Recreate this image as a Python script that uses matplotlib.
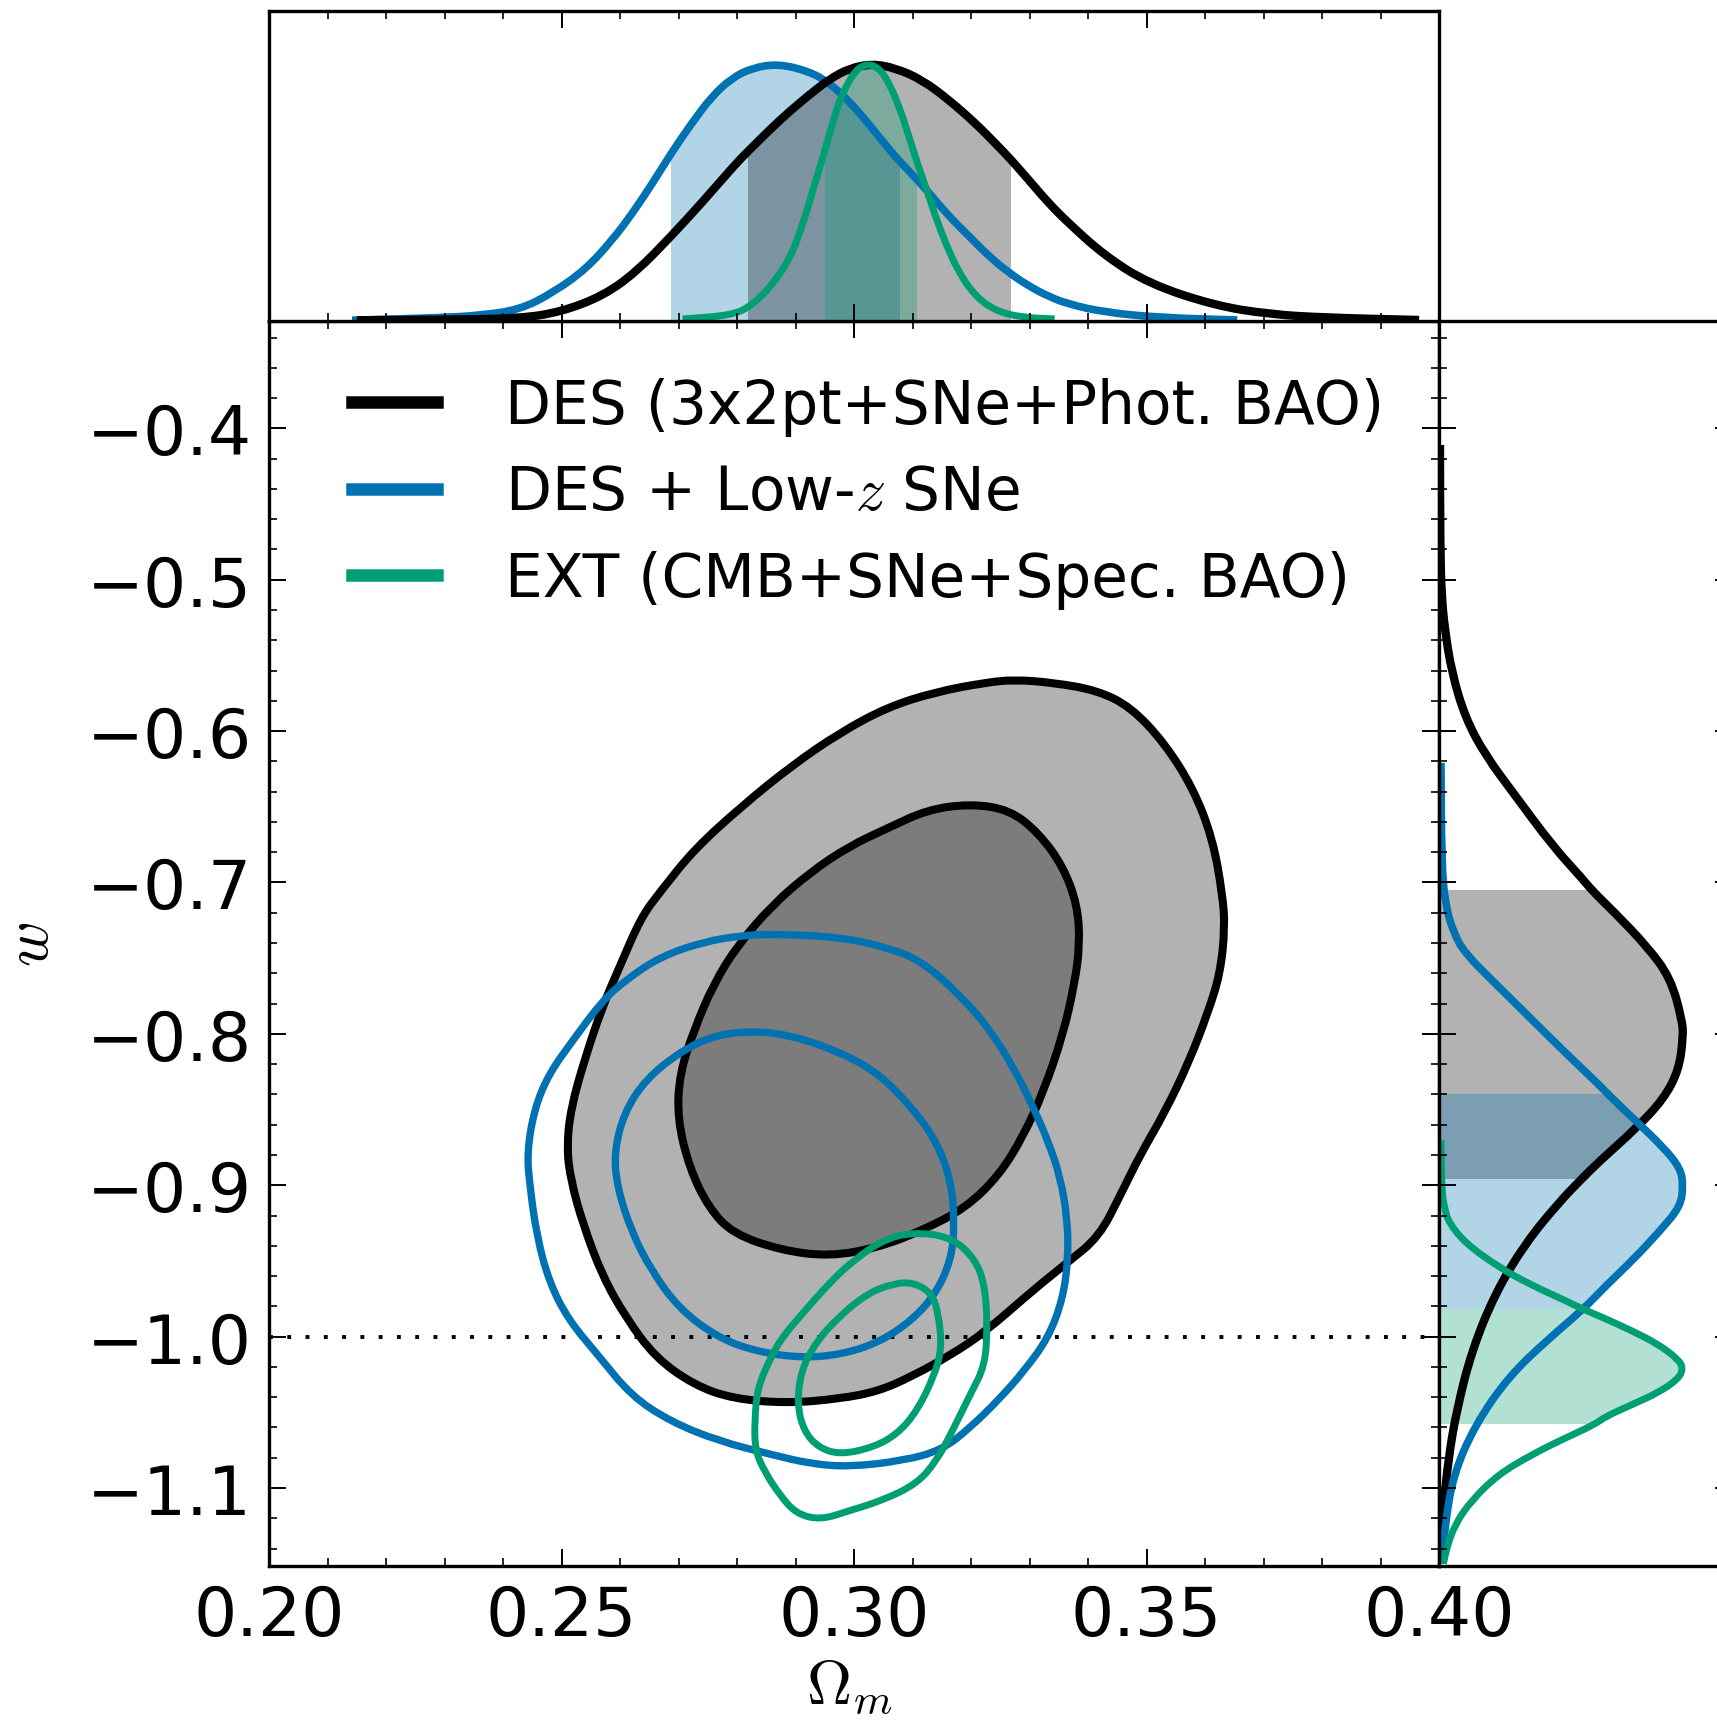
import numpy as np
import matplotlib
matplotlib.use('Agg')
import matplotlib.pyplot as plt
from matplotlib.path import Path
from matplotlib.patches import PathPatch, Rectangle
from matplotlib.lines import Line2D
from matplotlib.transforms import Affine2D
from matplotlib.ticker import MultipleLocator

# colours (DES black, DES+lowz blue, EXT green)
c_des = 'black'
c_low = '#0072B2'
c_ext = '#009E73'

labels = ['DES (3x2pt+SNe+Phot. BAO)', r'DES + Low-$z$ SNe', 'EXT (CMB+SNe+Spec. BAO)']

# ---- 2D contours (Omega_m, w) ----
des_out_om = [0.3274, 0.3340, 0.3415, 0.3473, 0.3531, 0.3580, 0.3613, 0.3630, 0.3634, 0.3626,
              0.3605, 0.3572, 0.3531, 0.3489, 0.3456, 0.3419, 0.3365, 0.3307, 0.3224, 0.3166,
              0.3100, 0.3042, 0.2976, 0.2885, 0.2793, 0.2727, 0.2661, 0.2611, 0.2570, 0.2537,
              0.2516, 0.2509, 0.2516, 0.2541, 0.2570, 0.2599, 0.2636, 0.2669, 0.2727, 0.2810,
              0.2893, 0.2976, 0.3058, 0.3141, 0.3224]
des_out_w = [-0.566, -0.568, -0.573, -0.584, -0.608, -0.638, -0.671, -0.708, -0.730, -0.760,
             -0.786, -0.819, -0.852, -0.880, -0.906, -0.934, -0.951, -0.969, -0.997, -1.012,
             -1.026, -1.036, -1.041, -1.044, -1.041, -1.032, -1.014, -0.988, -0.960, -0.926,
             -0.897, -0.875, -0.849, -0.815, -0.782, -0.756, -0.723, -0.706, -0.678, -0.649,
             -0.623, -0.601, -0.584, -0.574, -0.568]

des_in_om = [0.3199, 0.3266, 0.3315, 0.3357, 0.3382, 0.3386, 0.3377, 0.3357, 0.3324, 0.3290,
             0.3249, 0.3191, 0.3116, 0.3042, 0.2959, 0.2876, 0.2793, 0.2752, 0.2719, 0.2698,
             0.2702, 0.2727, 0.2760, 0.2802, 0.2860, 0.2926, 0.2992, 0.3058, 0.3125]
des_in_w = [-0.648, -0.652, -0.667, -0.689, -0.715, -0.741, -0.767, -0.801, -0.838, -0.867,
            -0.893, -0.915, -0.930, -0.941, -0.947, -0.943, -0.932, -0.915, -0.889, -0.856,
            -0.826, -0.797, -0.767, -0.741, -0.715, -0.693, -0.676, -0.664, -0.652]

low_out_om = [0.2860, 0.2976, 0.3058, 0.3116, 0.3183, 0.3232, 0.3274, 0.3307, 0.3332, 0.3353,
              0.3365, 0.3366, 0.3357, 0.3332, 0.3290, 0.3249, 0.3199, 0.3150, 0.3083, 0.2992,
              0.2926, 0.2860, 0.2769, 0.2686, 0.2619, 0.2562, 0.2512, 0.2479, 0.2458, 0.2446,
              0.2441, 0.2454, 0.2479, 0.2520, 0.2570, 0.2611, 0.2669, 0.2744, 0.2810]
low_out_w = [-0.734, -0.736, -0.743, -0.752, -0.775, -0.797, -0.823, -0.849, -0.871, -0.895,
             -0.923, -0.949, -0.975, -1.001, -1.023, -1.041, -1.060, -1.075, -1.082, -1.086,
             -1.084, -1.078, -1.069, -1.056, -1.039, -1.012, -0.989, -0.964, -0.934, -0.901,
             -0.878, -0.849, -0.826, -0.804, -0.778, -0.764, -0.749, -0.739, -0.735]

low_in_om = [0.2827, 0.2893, 0.2976, 0.3042, 0.3100, 0.3141, 0.3166, 0.3172, 0.3166, 0.3141,
             0.3100, 0.3042, 0.2976, 0.2909, 0.2835, 0.2769, 0.2702, 0.2653, 0.2619, 0.2595,
             0.2590, 0.2607, 0.2644, 0.2702, 0.2760]
low_in_w = [-0.798, -0.801, -0.812, -0.826, -0.849, -0.871, -0.897, -0.926, -0.949, -0.971,
            -0.989, -1.004, -1.012, -1.014, -1.010, -1.001, -0.982, -0.956, -0.930, -0.901,
            -0.878, -0.852, -0.830, -0.812, -0.801]

ext_out_om = [0.3100, 0.3166, 0.3208, 0.3224, 0.3228, 0.3224, 0.3199, 0.3166, 0.3141, 0.3108,
              0.3050, 0.2992, 0.2943, 0.2901, 0.2872, 0.2847, 0.2831, 0.2830, 0.2835, 0.2856,
              0.2876, 0.2909, 0.2959, 0.3001, 0.3050]
ext_out_w = [-0.931, -0.934, -0.949, -0.967, -0.993, -1.019, -1.038, -1.064, -1.082, -1.097,
             -1.108, -1.115, -1.121, -1.117, -1.104, -1.089, -1.075, -1.056, -1.034, -1.015,
             -1.001, -0.986, -0.964, -0.949, -0.936]

ext_in_om = [0.3100, 0.3133, 0.3145, 0.3150, 0.3137, 0.3108, 0.3075, 0.3034, 0.2976, 0.2938,
             0.2914, 0.2903, 0.2909, 0.2934, 0.2976, 0.3025, 0.3067]
ext_in_w = [-0.964, -0.971, -0.986, -1.008, -1.026, -1.049, -1.064, -1.073, -1.078, -1.073,
            -1.062, -1.045, -1.023, -1.004, -0.986, -0.971, -0.965]

# ---- 1D marginals of Omega_m (normalised to peak) ----
om_des = [0.2150, 0.2300, 0.2429, 0.2500, 0.2571, 0.2627, 0.2688, 0.2740, 0.2797, 0.2819,
          0.2859, 0.2890, 0.2924, 0.2958, 0.2992, 0.3031, 0.3071, 0.3116, 0.3162, 0.3207,
          0.3241, 0.3268, 0.3298, 0.3332, 0.3366, 0.3428, 0.3504, 0.3617, 0.3711, 0.3806,
          0.3966]
p_om_des = [0.003, 0.005, 0.010, 0.036, 0.098, 0.189, 0.331, 0.460, 0.609, 0.660,
            0.750, 0.815, 0.880, 0.940, 0.982, 1.000, 0.983, 0.938, 0.860, 0.770,
            0.692, 0.628, 0.550, 0.460, 0.382, 0.255, 0.145, 0.060, 0.026, 0.013,
            0.004]

om_low = [0.2142, 0.2296, 0.2360, 0.2429, 0.2486, 0.2542, 0.2588, 0.2622, 0.2656, 0.2688,
          0.2723, 0.2757, 0.2791, 0.2825, 0.2870, 0.2924, 0.2958, 0.2992, 0.3026, 0.3060,
          0.3078, 0.3094, 0.3128, 0.3162, 0.3196, 0.3230, 0.3264, 0.3298, 0.3332, 0.3366,
          0.3428, 0.3523, 0.3655]
p_om_low = [0.003, 0.013, 0.022, 0.044, 0.111, 0.202, 0.318, 0.421, 0.537, 0.654,
            0.770, 0.873, 0.944, 0.983, 1.000, 0.970, 0.925, 0.854, 0.764, 0.667,
            0.621, 0.583, 0.499, 0.408, 0.331, 0.253, 0.189, 0.137, 0.096, 0.066,
            0.034, 0.013, 0.004]

om_ext = [0.2707, 0.2791, 0.2825, 0.2859, 0.2890, 0.2912, 0.2935, 0.2951, 0.2963, 0.2980,
          0.3003, 0.3023, 0.3043, 0.3060, 0.3077, 0.3094, 0.3108, 0.3122, 0.3139, 0.3156,
          0.3179, 0.3207, 0.3241, 0.3286, 0.3343]
p_om_ext = [0.008, 0.022, 0.060, 0.137, 0.240, 0.370, 0.550, 0.667, 0.770, 0.886,
            0.977, 1.000, 0.983, 0.925, 0.835, 0.718, 0.615, 0.525, 0.408, 0.305,
            0.189, 0.098, 0.040, 0.014, 0.008]

# 68% intervals
om_lim_des = (0.2819, 0.3268)
om_lim_low = (0.2688, 0.3078)
om_lim_ext = (0.2951, 0.3108)

# ---- 1D marginals of w ----
w_des = [-0.411, -0.479, -0.512, -0.534, -0.561, -0.591, -0.616, -0.643, -0.676, -0.698,
         -0.705, -0.720, -0.742, -0.763, -0.791, -0.802, -0.824, -0.843, -0.862, -0.884,
         -0.896, -0.911, -0.938, -0.971, -1.009, -1.048, -1.080, -1.113, -1.146]
p_w_des = [0.004, 0.005, 0.011, 0.025, 0.052, 0.107, 0.190, 0.314, 0.466, 0.590,
           0.625, 0.720, 0.851, 0.948, 0.996, 1.000, 0.982, 0.920, 0.810, 0.658,
           0.583, 0.493, 0.355, 0.231, 0.135, 0.073, 0.039, 0.018, 0.008]

w_low = [-0.621, -0.687, -0.714, -0.733, -0.747, -0.769, -0.791, -0.813, -0.834, -0.840,
         -0.856, -0.875, -0.889, -0.900, -0.914, -0.930, -0.949, -0.966, -0.982, -1.001,
         -1.026, -1.058, -1.091, -1.124, -1.150]
p_w_low = [0.008, 0.011, 0.025, 0.059, 0.107, 0.245, 0.383, 0.521, 0.658, 0.693,
           0.796, 0.920, 0.989, 1.000, 0.989, 0.906, 0.796, 0.686, 0.590, 0.452,
           0.287, 0.149, 0.059, 0.025, 0.012]

w_ext = [-0.870, -0.905, -0.916, -0.924, -0.938, -0.954, -0.966, -0.976, -0.982, -0.986,
         -0.996, -1.005, -1.015, -1.021, -1.028, -1.037, -1.045, -1.053, -1.058, -1.067,
         -1.078, -1.091, -1.108, -1.124, -1.140, -1.150]
p_w_ext = [0.008, 0.011, 0.025, 0.038, 0.106, 0.243, 0.379, 0.516, 0.591, 0.652,
           0.789, 0.898, 0.980, 1.000, 0.980, 0.898, 0.789, 0.679, 0.638, 0.516,
           0.379, 0.243, 0.134, 0.065, 0.031, 0.018]

w_lim_des = (-0.896, -0.705)
w_lim_low = (-0.982, -0.840)
w_lim_ext = (-1.058, -0.982)


def closed_curve(xs, ys):
    # smooth closed path through the traced contour points
    pts = np.column_stack([xs, ys])
    mids = (pts + np.roll(pts, -1, axis=0)) / 2.
    verts = [mids[-1]]
    codes = [Path.MOVETO]
    for i in range(len(pts)):
        verts += [pts[i], mids[i]]
        codes += [Path.CURVE3, Path.CURVE3]
    return Path(verts, codes)


def open_curve(xs, ys, base=False):
    # smooth open path; base=True closes it down to zero for filling
    pts = np.column_stack([xs, ys])
    mids = (pts[:-1] + pts[1:]) / 2.
    verts = [pts[0], mids[0]]
    codes = [Path.MOVETO, Path.LINETO]
    for i in range(1, len(pts) - 1):
        verts += [pts[i], mids[i]]
        codes += [Path.CURVE3, Path.CURVE3]
    verts.append(pts[-1])
    codes.append(Path.LINETO)
    if base:
        verts += [[xs[-1], 0], [xs[0], 0], pts[0]]
        codes += [Path.LINETO, Path.LINETO, Path.CLOSEPOLY]
    return Path(verts, codes)


plt.rcParams['font.family'] = 'DejaVu Sans'
plt.rcParams['mathtext.fontset'] = 'cm'
plt.rcParams['axes.linewidth'] = 2.4
for a in ['xtick', 'ytick']:
    plt.rcParams[a + '.direction'] = 'in'
    plt.rcParams[a + '.major.size'] = 12.5
    plt.rcParams[a + '.minor.size'] = 6
    plt.rcParams[a + '.major.width'] = 1.4
    plt.rcParams[a + '.minor.width'] = 1.2

fig = plt.figure(figsize=(17.17, 17.31), dpi=100)
ax = fig.add_axes([0.15667, 0.09474, 0.68142, 0.71924])
axt = fig.add_axes([0.15667, 0.81398, 0.68142, 0.17909])
axr = fig.add_axes([0.83809, 0.09474, 0.17065, 0.71924])

xlim = (0.20, 0.40)
ylim = (-1.1515, -0.3291)

# ---- main panel ----
for xs, ys in [(des_out_om, des_out_w), (des_in_om, des_in_w)]:
    ax.add_patch(PathPatch(closed_curve(xs, ys), facecolor='black', alpha=0.3,
                           edgecolor='none', zorder=1))
ax.axhline(-1.0, color='k', ls=(0, (1, 3.7)), lw=2.8, zorder=2)
for xs, ys in [(des_out_om, des_out_w), (des_in_om, des_in_w)]:
    ax.add_patch(PathPatch(closed_curve(xs, ys), fill=False, edgecolor=c_des, lw=5.8, zorder=3))
for xs, ys in [(low_out_om, low_out_w), (low_in_om, low_in_w)]:
    ax.add_patch(PathPatch(closed_curve(xs, ys), fill=False, edgecolor=c_low, lw=5.3, zorder=4))
for xs, ys in [(ext_out_om, ext_out_w), (ext_in_om, ext_in_w)]:
    ax.add_patch(PathPatch(closed_curve(xs, ys), fill=False, edgecolor=c_ext, lw=5.0, zorder=5))

ax.set_xlim(xlim)
ax.set_ylim(ylim)
ax.xaxis.set_major_locator(MultipleLocator(0.05))
ax.xaxis.set_minor_locator(MultipleLocator(0.01))
ax.yaxis.set_major_locator(MultipleLocator(0.1))
ax.yaxis.set_minor_locator(MultipleLocator(0.02))
ax.tick_params(which='both', top=True, right=True)
ax.tick_params(which='major', labelsize=49, pad=12.5)
ax.set_xlabel(r'$\Omega_m$', fontsize=45)
ax.set_ylabel(r'$w$', fontsize=45)
ax.xaxis.set_label_coords(0.496, -0.072)
ax.yaxis.set_label_coords(-0.178, 0.5)

handles = [Line2D([], [], color=c, lw=9) for c in [c_des, c_low, c_ext]]
ax.legend(handles, labels, loc='upper left', bbox_to_anchor=(0.0713, 0.955),
          frameon=False, fontsize=43, handlelength=1.42, handletextpad=1.13,
          labelspacing=0.46, borderpad=0, borderaxespad=0)

# ---- top panel: Omega_m ----
om_sets = [(om_low, p_om_low, om_lim_low, c_low, 5.5),
           (om_des, p_om_des, om_lim_des, c_des, 6.0),
           (om_ext, p_om_ext, om_lim_ext, c_ext, 5.0)]
for om, p, lim, c, lw in om_sets:
    shade = PathPatch(open_curve(om, p, base=True), facecolor=c, alpha=0.3, lw=0)
    axt.add_patch(shade)
    shade.set_clip_path(Rectangle((lim[0], 0), lim[1] - lim[0], 2, transform=axt.transData))
for om, p, lim, c, lw in om_sets:
    axt.add_patch(PathPatch(open_curve(om, p), fill=False, edgecolor=c, lw=lw))
axt.set_xlim(xlim)
axt.set_ylim(0, 1.205)
axt.xaxis.set_major_locator(MultipleLocator(0.05))
axt.xaxis.set_minor_locator(MultipleLocator(0.01))
axt.tick_params(axis='x', which='both', top=True, bottom=True, labelbottom=False)
axt.tick_params(axis='y', which='both', left=False, right=False, labelleft=False)

# ---- right panel: w ----
swap = Affine2D([[0, 1, 0], [1, 0, 0], [0, 0, 1]])
w_sets = [(w_des, p_w_des, w_lim_des, c_des, 6.0),
          (w_low, p_w_low, w_lim_low, c_low, 5.5),
          (w_ext, p_w_ext, w_lim_ext, c_ext, 5.0)]
for w, p, lim, c, lw in w_sets:
    shade = PathPatch(open_curve(w, p, base=True).transformed(swap),
                      facecolor=c, alpha=0.3, lw=0)
    axr.add_patch(shade)
    shade.set_clip_path(Rectangle((0, lim[0]), 2, lim[1] - lim[0], transform=axr.transData))
for w, p, lim, c, lw in w_sets:
    axr.add_patch(PathPatch(open_curve(p, w), fill=False, edgecolor=c, lw=lw))
axr.set_xlim(0, 1.2)
axr.set_ylim(ylim)
axr.yaxis.set_major_locator(MultipleLocator(0.1))
axr.yaxis.set_minor_locator(MultipleLocator(0.02))
axr.tick_params(axis='y', which='both', left=True, right=True, labelleft=False)
axr.tick_params(axis='x', which='both', bottom=False, top=False, labelbottom=False)

fig.savefig('out.png', dpi=100)
